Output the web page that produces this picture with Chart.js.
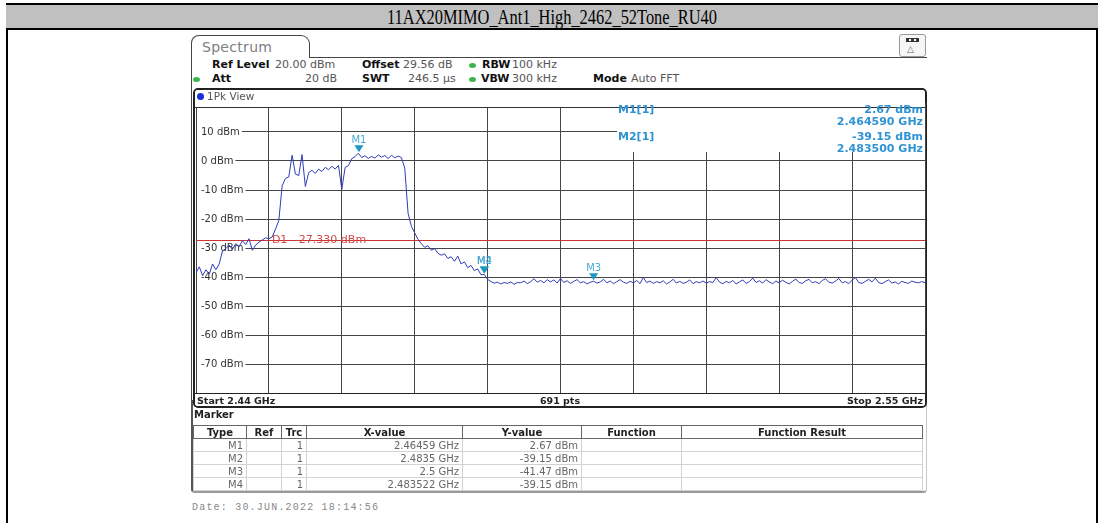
<!DOCTYPE html>
<html><head><meta charset="utf-8">
<script src="https://cdn.jsdelivr.net/npm/chart.js@4.4.1/dist/chart.umd.min.js"></script>
<style>
html,body{margin:0;padding:0;background:#fff;}
body{width:1104px;height:523px;position:relative;overflow:hidden;font-family:"DejaVu Sans",sans-serif;}
.a{position:absolute;box-sizing:border-box;}
.t{position:absolute;white-space:nowrap;line-height:12px;height:12px;}
.h{font-size:11px;}
.b{font-weight:bold;color:#111;}
.v{color:#555;}
.dot{position:absolute;width:7px;height:5px;border-radius:50%;background:#3cb44b;}
.mk{color:#2f93d3;font-size:11px;font-weight:bold;}
table.mt{position:absolute;left:193px;top:425px;border-collapse:collapse;table-layout:fixed;font-size:10px;}
table.mt td,table.mt th{padding:0 3px;height:12px;line-height:11px;white-space:nowrap;overflow:hidden;}
table.mt th{border:1px solid #666;font-weight:bold;color:#222;background:#fff;text-align:center;height:12px;}
table.mt td{border:1px solid #d2d2d2;color:#666;text-align:right;}
</style></head><body>

<!-- outer document frame -->
<div class="a" style="left:6px;top:3px;width:2px;height:520px;background:#000;"></div>
<div class="a" style="left:1096px;top:3px;width:2px;height:520px;background:#000;"></div>
<div class="a" style="left:6px;top:3px;width:1092px;height:27px;background:#c0c0c0;border-top:2px solid #000;border-bottom:2px solid #000;"></div>
<div id="title" class="t" style="left:552px;top:5px;height:23px;line-height:23px;font-family:'Liberation Serif',serif;font-size:22px;color:#000;">11AX20MIMO_Ant1_High_2462_52Tone_RU40</div>

<!-- spectrum panel -->
<div class="a" style="left:191px;top:35px;width:119px;height:23px;border:1.5px solid #444;border-bottom:none;border-radius:8px 9px 0 0;"></div>
<div class="a" style="left:309px;top:57px;width:618px;height:2px;border-top:1.5px solid #444;"></div>
<div class="a" style="left:191px;top:57px;width:2px;height:345px;border-left:1.5px solid #444;"></div>
<div class="t" style="left:202px;top:41px;font-size:14px;color:#808080;letter-spacing:0.3px;">Spectrum</div>
<div class="a" style="left:899px;top:34px;width:27px;height:23px;border:1px solid #999;border-radius:3px;background:#f6f6f6;"></div>
<div class="a" style="left:906px;top:38px;width:13px;height:4px;background:#333;"></div>
<div class="a" style="left:909px;top:39px;width:2px;height:2px;background:#fff;"></div>
<div class="a" style="left:914px;top:39px;width:2px;height:2px;background:#fff;"></div>
<div class="t" style="left:907px;top:43px;font-size:9px;color:#666;line-height:12px;">△</div>

<div class="t h b" style="left:212px;top:59px;">Ref Level</div>
<div class="t h v" style="left:275px;top:59px;">20.00 dBm</div>
<div class="t h b" style="left:362px;top:59px;">Offset</div>
<div class="t h v" style="left:403px;top:59px;">29.56 dB</div>
<div class="dot" style="left:469px;top:63px;"></div>
<div class="t h b" style="left:482px;top:59px;">RBW</div>
<div class="t h v" style="left:512px;top:59px;">100 kHz</div>

<div class="dot" style="left:193px;top:77px;"></div>
<div class="t h b" style="left:212px;top:73px;">Att</div>
<div class="t h v" style="right:767px;top:73px;">20 dB</div>
<div class="t h b" style="left:362px;top:73px;">SWT</div>
<div class="t h v" style="left:408px;top:73px;">246.5 µs</div>
<div class="dot" style="left:469px;top:77px;"></div>
<div class="t h b" style="left:481px;top:73px;">VBW</div>
<div class="t h v" style="left:512px;top:73px;">300 kHz</div>
<div class="t h b" style="left:593px;top:73px;">Mode</div>
<div class="t h v" style="left:631px;top:73px;">Auto FFT</div>

<!-- marker area frame -->
<div class="a" style="left:191px;top:400px;width:736px;height:93px;border-left:2px solid #555;border-right:1px solid #c8c8c8;border-bottom:2px solid #999;border-radius:0 0 4px 4px;"></div>

<!-- view box -->
<div class="a" style="left:193px;top:88px;width:734px;height:320px;border:2px solid #222;border-radius:5px;"></div>
<canvas id="c" class="a" width="742" height="302" style="left:190px;top:98px;"></canvas>

<div class="a" style="left:195px;top:90px;width:730px;height:18px;background:#fff;border-bottom:1px solid #333;border-radius:3px 3px 0 0;"></div>
<div class="a" style="left:197px;top:93px;width:7px;height:7px;border-radius:50%;background:#1a2fd8;"></div>
<div class="t" style="left:207px;top:90px;font-size:10.5px;color:#555;">1Pk View</div>

<div id="mbox" class="a" style="left:617px;top:108px;width:308px;height:44px;background:#fff;"></div>

<div class="a" style="left:195px;top:393px;width:730px;height:13px;background:#fff;border-top:1px solid #222;border-radius:0 0 3px 3px;"></div>
<div class="t b" style="left:197px;top:395px;font-size:9.5px;color:#222;">Start 2.44 GHz</div>
<div class="t b" style="left:560px;top:395px;font-size:9.5px;color:#222;transform:translateX(-50%);">691 pts</div>
<div class="t b" style="right:181px;top:395px;font-size:9.5px;color:#222;">Stop 2.55 GHz</div>

<div class="t b" style="left:194px;top:409px;font-size:10px;color:#222;">Marker</div>
<table class="mt" id="mt">
<colgroup><col style="width:53px"><col style="width:35px"><col style="width:25px"><col style="width:156px"><col style="width:119px"><col style="width:100px"><col style="width:241px"></colgroup>
<thead><tr><th>Type</th><th>Ref</th><th>Trc</th><th>X-value</th><th>Y-value</th><th>Function</th><th>Function Result</th></tr></thead>
<tbody id="mtb"></tbody>
</table>

<div class="t" style="left:192px;top:502px;font-family:'Liberation Mono',monospace;font-size:10px;letter-spacing:1.2px;color:#888;">Date: 30.JUN.2022  18:14:56</div>

<script>
// ---------------- data ----------------
const freqStartGHz = 2.44;
const freqStopGHz = 2.55;
const traceStepMHz = 0.5;
const traceLevels = [
 -38.5,-36.5,-39.5,-37.5,-39.0,-35.5,-37.5,-35.5,-31.0,-30.2,
 -29.0,-30.5,-28.5,-29.5,-27.5,-28.8,-26.8,-30.8,-29.0,-28.0,
 -27.2,-26.5,-26.8,-26.2,-23.5,-20.5,-8.5,-6.0,-5.5,2.0,
 -4.5,-5.0,2.2,-8.8,-4.0,-3.2,-4.3,-2.8,-3.6,-2.2,
 -3.0,-1.8,-2.8,-1.5,-9.8,-2.2,-1.6,0.8,1.5,2.67,
 1.2,1.8,0.9,1.6,1.0,2.1,1.3,1.9,0.8,2.0,
 1.1,1.7,1.2,-2.5,-18.0,-22.5,-24.8,-27.0,-28.5,-29.8,
 -29.2,-30.8,-30.2,-31.8,-32.5,-32.0,-33.6,-33.0,-34.6,-32.8,
 -35.5,-34.8,-36.8,-36.0,-37.8,-37.2,-39.2,-39.15,-40.8,-41.6,
 -42.1,-41.8,-42.4,-41.9,-42.2,-41.7,-42.5,-41.9,-42.0,-41.4,
 -42.3,-41.6,-40.6,-41.8,-41.2,-42.0,-40.9,-41.7,-41.0,-42.1,
 -40.5,-41.9,-41.3,-42.2,-41.5,-40.9,-42.0,-41.6,-42.4,-41.8,
 -41.47,-42.1,-41.7,-40.8,-42.0,-41.4,-42.3,-41.6,-40.9,-41.8,
 -42.2,-41.5,-42.0,-41.2,-42.3,-40.2,-41.9,-41.4,-42.2,-41.6,
 -42.0,-41.3,-42.4,-41.7,-40.8,-42.1,-41.5,-42.2,-41.8,-41.0,
 -42.3,-41.6,-42.0,-41.4,-42.1,-41.6,-41.9,-40.2,-41.8,-42.3,
 -41.5,-42.0,-41.2,-42.4,-41.7,-41.0,-42.2,-41.6,-40.4,-41.9,
 -41.3,-42.1,-40.9,-41.7,-42.3,-41.4,-42.0,-41.1,-41.8,-42.4,
 -41.5,-40.7,-41.9,-42.2,-41.3,-40.8,-42.0,-41.6,-42.3,-41.2,
 -40.6,-41.8,-42.1,-41.4,-40.5,-42.0,-41.6,-42.3,-41.1,-40.2,
 -41.9,-42.2,-41.5,-40.8,-41.7,-40.4,-41.9,-42.3,-41.6,-41.0,
 -42.1,-41.7,-42.4,-41.5,-41.9,-42.2,-41.4,-41.8,-42.0,-41.6,
 -41.9
];
const xGridValues = [2.44, 2.451, 2.462, 2.473, 2.484, 2.495, 2.506, 2.517, 2.528, 2.539, 2.55];
const yGridValues = [20, 10, 0, -10, -20, -30, -40, -50, -60, -70, -80];
const yTickValues = [10, 0, -10, -20, -30, -40, -50, -60, -70];
const yTickLabels = ['10 dBm', '0 dBm', '-10 dBm', '-20 dBm', '-30 dBm', '-40 dBm', '-50 dBm', '-60 dBm', '-70 dBm'];
const displayLineName = 'D1';
const displayLineLevel = -27.33;
const markerNames = ['M1', 'M2', 'M3', 'M4'];
const markerFreqs = [2.46459, 2.4835, 2.5, 2.483522];
const markerLevels = [2.67, -39.15, -41.47, -39.15];
const markerTrace = [1, 1, 1, 1];

// ---------------- title fit ----------------
const tt = document.getElementById('title');
const tw = tt.getBoundingClientRect().width;
tt.style.transform = 'translateX(-50%) scaleX(' + (330 / tw) + ')';

// ---------------- marker info (top right) ----------------
function addText(x, yc, text, cls, alignRight) {
  const d = document.createElement('div');
  d.className = 't ' + cls;
  d.textContent = text;
  d.style.top = (yc - 6) + 'px';
  if (alignRight) d.style.right = (1104 - x) + 'px'; else d.style.left = x + 'px';
  document.body.appendChild(d);
}
[0, 1].forEach(function (k) {
  const y0 = 110 + k * 26.5;
  addText(618, y0, markerNames[k] + '[' + markerTrace[k] + ']', 'mk', false);
  addText(923, y0, markerLevels[k].toFixed(2) + ' dBm', 'mk', true);
  addText(923, y0 + 12, markerFreqs[k].toFixed(6) + ' GHz', 'mk', true);
});

// ---------------- marker table ----------------
const tb = document.getElementById('mtb');
markerNames.forEach(function (n, k) {
  const tr = document.createElement('tr');
  [n, '', String(markerTrace[k]), markerFreqs[k] + ' GHz', markerLevels[k].toFixed(2) + ' dBm', '', ''].forEach(function (c) {
    const td = document.createElement('td'); td.textContent = c; tr.appendChild(td);
  });
  tb.appendChild(tr);
});

// ---------------- chart ----------------
const tracePoints = traceLevels.map(function (v, i) {
  return { x: freqStartGHz + i * traceStepMHz / 1000, y: v };
});

const overlayPlugin = {
  id: 'overlay',
  beforeDatasetsDraw: function (chart) {
    const ctx = chart.ctx, xs = chart.scales.x, ys = chart.scales.y, ca = chart.chartArea;
    ctx.save();
    ctx.font = '10px "DejaVu Sans"';
    ctx.textBaseline = 'middle';
    ctx.textAlign = 'left';
    yTickValues.forEach(function (v, k) {
      const y = ys.getPixelForValue(v);
      const w = ctx.measureText(yTickLabels[k]).width;
      ctx.fillStyle = '#fff';
      ctx.fillRect(ca.left + 1, y - 6, w + 6, 12);
      ctx.fillStyle = '#333';
      ctx.fillText(yTickLabels[k], ca.left + 5, y + 0.5);
    });
    const yd = Math.round(ys.getPixelForValue(displayLineLevel)) + 0.5;
    ctx.strokeStyle = '#cc3333';
    ctx.lineWidth = 1;
    ctx.beginPath(); ctx.moveTo(ca.left, yd); ctx.lineTo(ca.right, yd); ctx.stroke();
    ctx.font = '11px "DejaVu Sans"';
    ctx.fillStyle = '#d04a4a';
    const xd = xs.getPixelForValue(xGridValues[1]) + 3;
    ctx.fillText(displayLineName, xd, yd);
    ctx.fillText(displayLineLevel.toFixed(3) + ' dBm', xd + 23, yd);
    ctx.restore();
  },
  afterDatasetsDraw: function (chart) {
    const ctx = chart.ctx, xs = chart.scales.x, ys = chart.scales.y;
    ctx.save();
    ctx.font = '10px "DejaVu Sans"';
    ctx.textAlign = 'center';
    ctx.textBaseline = 'middle';
    markerNames.forEach(function (n, k) {
      const px = xs.getPixelForValue(markerFreqs[k]);
      const py = ys.getPixelForValue(markerLevels[k]);
      ctx.fillStyle = '#1e98c2';
      ctx.beginPath();
      ctx.moveTo(px - 4.5, py - 8);
      ctx.lineTo(px + 4.5, py - 8);
      ctx.lineTo(px, py - 1);
      ctx.closePath();
      ctx.fill();
      ctx.fillStyle = '#4aa9d4';
      ctx.fillText(n, px, py - 13);
    });
    ctx.restore();
  }
};

new Chart(document.getElementById('c'), {
  type: 'line',
  data: {
    datasets: [{
      data: tracePoints,
      borderColor: '#2f3cb6',
      borderWidth: 1,
      pointRadius: 0,
      tension: 0,
      fill: false
    }]
  },
  options: {
    responsive: false,
    animation: false,
    devicePixelRatio: 1,
    layout: { padding: { left: 6, top: 5, right: 7, bottom: 7 } },
    plugins: { legend: { display: false }, tooltip: { enabled: false } },
    events: [],
    scales: {
      x: {
        type: 'linear', min: freqStartGHz, max: freqStopGHz,
        ticks: { display: false },
        grid: { color: '#454545', lineWidth: 1, drawTicks: false },
        border: { display: false },
        afterBuildTicks: function (s) { s.ticks = xGridValues.map(function (v) { return { value: v }; }); }
      },
      y: {
        type: 'linear', min: -80, max: 20,
        ticks: { display: false },
        grid: { color: '#454545', lineWidth: 1, drawTicks: false },
        border: { display: false },
        afterBuildTicks: function (s) { s.ticks = yGridValues.map(function (v) { return { value: v }; }); }
      }
    }
  },
  plugins: [overlayPlugin]
});
</script>
</body></html>
